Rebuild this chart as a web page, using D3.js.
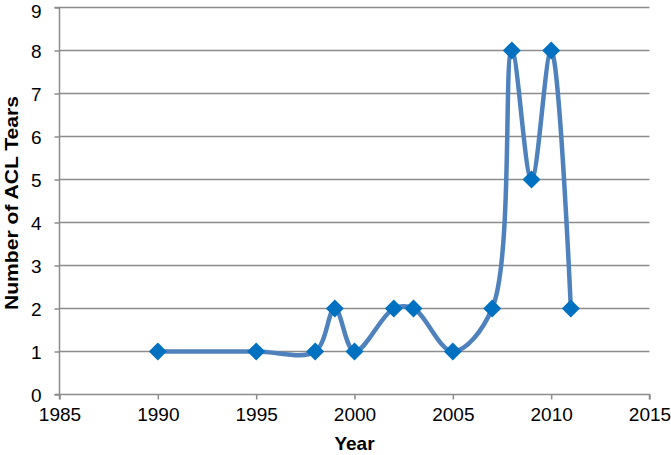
<!DOCTYPE html>
<html><head><meta charset="utf-8">
<script src="https://cdn.jsdelivr.net/npm/d3@7"></script>
<style>body{margin:0;background:#fff}svg{display:block}text{font-family:"Liberation Sans",Arial,sans-serif}</style>
</head><body><svg id="c" width="671" height="455"></svg>
<script>
const years = [1990,1995,1998,1999,2000,2002,2003,2005,2007,2008,2009,2010,2011];
const tears = [1,1,1,2,1,2,2,1,2,8,5,8,2];
const xTicks = [1985,1990,1995,2000,2005,2010,2015];
const yTicks = [0,1,2,3,4,5,6,7,8,9];

const svg = d3.select("#c");
const x = d3.scaleLinear().domain([1985,2015]).range([59.5,649.5]);
const y = d3.scaleLinear().domain([0,9]).range([394.5,7.5]);

svg.append("g").selectAll("line").data(yTicks.filter(d=>d>0)).join("line")
  .attr("x1",x(1985)).attr("x2",x(2015)).attr("y1",d=>y(d)).attr("y2",d=>y(d))
  .attr("stroke","#8c8c8c").attr("stroke-width",1.5);

const yAxis = svg.append("g").attr("transform",`translate(${x(1985)},0)`)
  .call(d3.axisLeft(y).tickValues(yTicks).tickSize(5).tickPadding(13).tickFormat(d3.format("d")));
const xAxis = svg.append("g").attr("transform",`translate(0,${y(0)})`)
  .call(d3.axisBottom(x).tickValues(xTicks).tickSize(5).tickPadding(8).tickFormat(d3.format("d")));
[yAxis,xAxis].forEach(g=>{
  g.select(".domain").attr("stroke","#8c8c8c").attr("stroke-width",1.5);
  g.selectAll(".tick line").attr("stroke","#8c8c8c").attr("stroke-width",1.5);
  g.selectAll("text").attr("font-size",19).attr("fill","#000").style("font-family","'Liberation Sans',Arial,sans-serif");
});
yAxis.selectAll(".tick text").attr("dy",d=>d===9?"0.5em":"0.36em");
yAxis.select(".domain").attr("d",`M-5,${y(0)}H0V${y(9)}H-5`);
xAxis.select(".domain").attr("d",`M${x(1985)},5V0H${x(2015)}V5`);

const pts = years.map((d,i)=>[x(d),y(tears[i])]);
svg.append("path").attr("d",d3.line().curve(d3.curveCatmullRom.alpha(0.5))(pts))
  .attr("fill","none").attr("stroke","#4F81BD").attr("stroke-width",4.5);

svg.append("g").selectAll("path").data(pts).join("path")
  .attr("transform",d=>`translate(${d[0]},${d[1]})`)
  .attr("d","M0,-9L9,0L0,9L-9,0Z").attr("fill","#0070C0");

svg.append("text").attr("x",(x(1985)+x(2015))/2).attr("y",450).attr("text-anchor","middle")
  .attr("font-size",19).attr("font-weight","bold").text("Year");
svg.append("text").attr("transform",`translate(18,203) rotate(-90)`).attr("text-anchor","middle")
  .attr("font-size",19).attr("font-weight","bold").attr("textLength",214).attr("lengthAdjust","spacingAndGlyphs")
  .text("Number of ACL Tears");
</script></body></html>
